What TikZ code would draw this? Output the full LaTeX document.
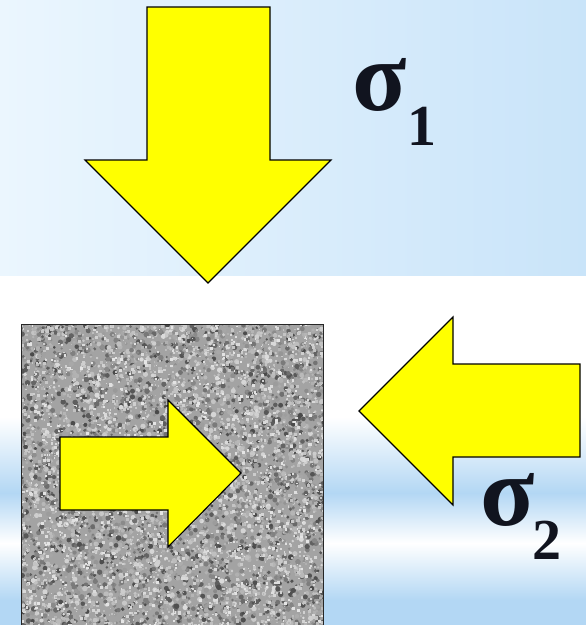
\documentclass[tikz,border=0pt]{standalone}
\usepackage{fontspec}
\setmainfont{Liberation Serif}
\definecolor{bandblue}{HTML}{B3D7F4}
\definecolor{topleft}{HTML}{EBF6FE}
\definecolor{topright}{HTML}{C9E4F9}
\definecolor{inkdark}{HTML}{11141F}
\definecolor{arrowyellow}{HTML}{FFFF00}
\tikzset{
  bigarrow/.style={fill=arrowyellow, draw=black, line width=1.1pt, line join=miter},
  sigmalabel/.style={text=inkdark, font=\bfseries, inner sep=0pt, anchor=base west},
  stonebox/.style={draw=black!85, line width=1.4pt}
}
\begin{document}
\begin{tikzpicture}[x=1pt,y=-1pt]
\useasboundingbox (0,0) rectangle (586,625);
% backgrounds
\shade[left color=topleft, right color=topright] (0,0) rectangle (586,276);
\fill[white] (0,276) rectangle (586,417);
\shade[top color=white, bottom color=bandblue] (0,417) rectangle (586,493);
\shade[top color=bandblue, bottom color=white] (0,493) rectangle (586,543);
\shade[top color=white, bottom color=bandblue] (0,543) rectangle (586,600);
\fill[bandblue] (0,600) rectangle (586,625);
% stone box with noise texture
\begin{scope}
  \clip (21,324) rectangle (323,625);
  \fill[black!36] (21,324) rectangle (323,625);
  \pgfmathsetseed{12345}
  \foreach \i in {1,...,4500} {
    \pgfmathsetmacro{\xx}{20+304*rnd}
    \pgfmathsetmacro{\yy}{322+304*rnd}
    \pgfmathtruncatemacro{\cc}{14+58*rnd}
    \pgfmathsetmacro{\rr}{1.2+1.6*rnd}
    \fill[black!\cc] (\xx,\yy) circle (\rr);
  }
  \foreach \i in {1,...,3000} {
    \pgfmathsetmacro{\xx}{20+304*rnd}
    \pgfmathsetmacro{\yy}{322+304*rnd}
    \pgfmathtruncatemacro{\cc}{10+22*rnd}
    \pgfmathsetmacro{\rr}{1.2+2*rnd}
    \fill[black!\cc] (\xx,\yy) rectangle ++(\rr,\rr);
  }
\end{scope}
\node[stonebox, minimum width=302pt, minimum height=320pt, inner sep=0pt, anchor=north west] (box) at (21,324) {};
% top arrow (sigma 1)
\path[bigarrow] (147,7) -- (270,7) -- (270,160) -- (331,160) -- (208,283) -- (85,160) -- (147,160) -- cycle;
% inner arrow
\path[bigarrow] (60,437) -- (168,437) -- (168,400) -- (241,473) -- (168,547) -- (168,510) -- (60,510) -- cycle;
% right arrow (sigma 2)
\path[bigarrow] (580,364) -- (453,364) -- (453,317) -- (359,411) -- (453,505) -- (453,457) -- (580,457) -- cycle;
% labels
\node[sigmalabel, font=\fontsize{100}{100}\selectfont\bfseries] (s1) at (352,110) {σ};
\node[sigmalabel, font=\fontsize{58}{58}\selectfont\bfseries] (s1sub) at (407,145) {1};
\node[sigmalabel, font=\fontsize{100}{100}\selectfont\bfseries] (s2) at (480,525) {σ};
\node[sigmalabel, font=\fontsize{58}{58}\selectfont\bfseries] (s2sub) at (532,559) {2};
\end{tikzpicture}
\end{document}
